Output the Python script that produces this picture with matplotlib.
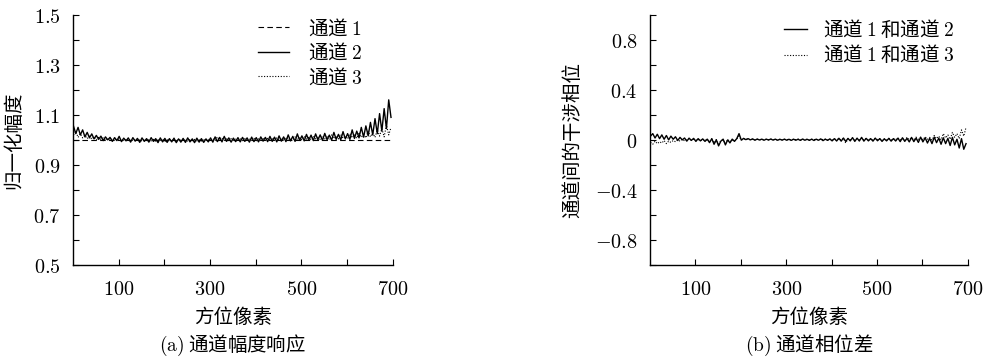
import matplotlib
matplotlib.use("Agg")

import numpy as np
import matplotlib.pyplot as plt
from matplotlib.ticker import FixedLocator, FuncFormatter

plt.rcParams['font.family'] = ['Noto Sans CJK SC', 'DejaVu Sans']
plt.rcParams['mathtext.fontset'] = 'cm'

# azimuth pixel index (sampled every 5 pixels)
pixels = list(range(1, 700, 5))

# (a) normalised amplitude
amp_ch1_x = [1, 700]
amp_ch1 = [1.0, 1.0]

amp_ch2 = [
    1.055, 1.025, 1.05, 1.02, 1.04, 1.012, 1.03, 1.008, 1.024, 1.004, 1.018, 1.002,
    1.015, 0.997, 1.012, 1.0, 1.01, 0.994, 1.009, 0.997, 1.014, 0.993, 1.007, 0.996,
    1.008, 0.991, 1.009, 0.995, 1.006, 0.99, 1.008, 0.994, 1.005, 0.991, 1.009, 0.994,
    1.005, 0.989, 1.008, 0.992, 1.006, 0.99, 1.005, 0.992, 1.007, 0.989, 1.004, 0.991,
    1.006, 0.99, 1.008, 0.992, 1.004, 0.989, 1.007, 0.991, 1.005, 0.99, 1.004, 0.992,
    1.008, 0.991, 1.012, 0.993, 1.01, 0.992, 1.014, 0.994, 1.008, 0.991, 1.007, 0.993,
    1.009, 0.992, 1.01, 0.994, 1.008, 0.991, 1.011, 0.993, 1.009, 0.992, 1.012, 0.995,
    1.01, 0.993, 1.014, 0.994, 1.011, 0.992, 1.016, 0.995, 1.012, 0.993, 1.02, 0.996,
    1.014, 0.994, 1.024, 0.998, 1.016, 0.996, 1.022, 0.999, 1.019, 0.997, 1.024, 1.0,
    1.02, 0.998, 1.026, 1.001, 1.019, 0.999, 1.03, 1.002, 1.022, 1.0, 1.033, 1.004,
    1.025, 1.002, 1.04, 1.006, 1.035, 1.008, 1.05, 1.011, 1.056, 1.016, 1.07, 1.02,
    1.085, 1.025, 1.105, 1.035, 1.125, 1.045, 1.16, 1.09,
]

amp_ch3 = [
    1.02, 1.035, 1.01, 1.025, 1.008, 1.018, 1.005, 1.015, 1.003, 1.012, 1.0, 1.01,
    1.002, 1.008, 0.998, 1.006, 1.0, 1.004, 0.997, 1.005, 0.999, 1.003, 0.996, 1.004,
    0.998, 1.002, 0.996, 1.003, 0.997, 1.001, 0.995, 1.002, 0.997, 1.0, 0.996, 1.002,
    0.995, 1.0, 0.997, 1.002, 0.994, 1.0, 0.996, 1.001, 0.995, 1.0, 0.997, 1.002,
    0.996, 1.0, 0.995, 1.001, 0.997, 1.002, 0.996, 1.0, 0.995, 1.001, 0.997, 1.003,
    0.998, 1.005, 0.997, 1.012, 0.999, 1.006, 0.998, 1.004, 0.997, 1.005, 0.999, 1.003,
    0.998, 1.004, 0.997, 1.005, 0.999, 1.003, 0.998, 1.006, 0.997, 1.004, 0.999, 1.005,
    0.998, 1.006, 1.0, 1.004, 0.998, 1.008, 1.0, 1.005, 0.999, 1.01, 1.001, 1.006,
    1.0, 1.012, 1.002, 1.008, 1.0, 1.014, 1.003, 1.01, 1.001, 1.015, 1.004, 1.01,
    1.002, 1.016, 1.004, 1.012, 1.003, 1.02, 1.005, 1.014, 1.004, 1.022, 1.006, 1.015,
    1.005, 1.025, 1.008, 1.02, 1.006, 1.03, 1.01, 1.022, 1.008, 1.035, 1.012, 1.028,
    1.01, 1.04, 1.015, 1.045, 1.012, 1.06, 1.02, 1.05,
]

# (b) interferometric phase between channels
phase_12 = [
    0.03, 0.05, 0.015, 0.045, 0.01, 0.04, 0.005, 0.035, 0.0, 0.03, 0.005, 0.025,
    -0.005, 0.02, 0.0, 0.015, -0.01, 0.014, -0.004, 0.012, -0.012, 0.01, -0.008, 0.008,
    -0.012, 0.006, -0.022, 0.01, -0.035, 0.0, -0.048, -0.01, 0.006, -0.04, 0.0, -0.024,
    0.006, -0.012, 0.01, 0.05, -0.002, 0.012, 0.002, 0.01, 0.0, 0.008, -0.003, 0.007,
    -0.001, 0.006, -0.003, 0.006, -0.001, 0.007, -0.002, 0.006, -0.003, 0.005, -0.002, 0.006,
    -0.003, 0.005, -0.004, 0.006, -0.003, 0.005, -0.004, 0.007, -0.003, 0.005, -0.004, 0.006,
    -0.005, 0.006, -0.003, 0.008, -0.006, 0.006, -0.004, 0.008, -0.008, 0.01, -0.009, 0.013,
    -0.01, 0.015, -0.012, 0.012, -0.008, 0.018, -0.012, 0.014, -0.009, 0.02, -0.01, 0.012,
    -0.008, 0.01, -0.01, 0.014, -0.007, 0.01, -0.012, 0.008, -0.008, 0.012, -0.01, 0.01,
    -0.009, 0.014, -0.014, 0.017, -0.012, 0.012, -0.016, 0.02, -0.014, 0.014, -0.02, 0.022,
    -0.016, 0.017, -0.025, 0.012, -0.03, 0.022, -0.022, 0.014, -0.035, 0.017, -0.03, 0.012,
    -0.045, 0.02, -0.04, 0.005, -0.065, 0.01, -0.075, -0.03,
]

phase_13 = [
    -0.02, -0.035, -0.01, -0.03, -0.015, -0.025, -0.005, -0.03, -0.01, -0.02, -0.005, -0.015,
    0.0, -0.01, 0.005, -0.008, 0.0, 0.008, -0.005, 0.006, -0.002, 0.004, -0.006, 0.005,
    -0.005, 0.004, -0.015, 0.006, -0.025, 0.002, -0.035, -0.005, 0.0, -0.03, 0.003, -0.015,
    0.0, -0.008, 0.008, 0.03, -0.002, 0.01, 0.003, 0.008, 0.0, 0.006, 0.002, 0.005,
    0.0, 0.005, 0.002, 0.004, 0.0, 0.005, 0.002, 0.004, -0.001, 0.005, 0.0, 0.004,
    0.002, 0.005, 0.0, 0.004, 0.002, 0.006, -0.001, 0.004, 0.002, 0.005, 0.0, 0.004,
    0.002, 0.005, -0.001, 0.006, 0.002, 0.005, 0.0, 0.006, -0.002, 0.008, 0.0, 0.01,
    -0.002, 0.012, -0.025, 0.01, 0.0, 0.014, -0.003, 0.01, 0.0, 0.015, -0.002, 0.012,
    0.0, 0.01, -0.002, 0.012, 0.002, 0.01, -0.003, 0.008, 0.0, 0.012, -0.002, 0.01,
    0.002, 0.015, 0.0, 0.012, -0.004, 0.02, 0.002, 0.016, -0.002, 0.022, 0.004, 0.018,
    0.0, 0.025, 0.005, 0.02, -0.002, 0.035, 0.01, 0.03, 0.0, 0.05, 0.015, 0.04,
    0.005, 0.06, 0.02, 0.05, 0.01, 0.08, 0.03, 0.1,
]

x_major = [100, 300, 500, 700]
x_minor = [200, 400, 600]
amp_major = [0.5, 0.7, 0.9, 1.1, 1.3, 1.5]
amp_minor = [0.6, 0.8, 1.0, 1.2, 1.4]
phase_major = [-0.8, -0.4, 0, 0.4, 0.8]
phase_minor = [-1.0, -0.6, -0.2, 0.2, 0.6, 1.0]

FS = 14
NUM_FS = 14.5
math_fmt = FuncFormatter(lambda v, pos: f'${v:g}$')


def style_axes(ax, yticks, yminor, ylim):
    ax.set_xlim(0, 700)
    ax.set_ylim(*ylim)
    for s in ['top', 'right']:
        ax.spines[s].set_visible(False)
    for s in ['left', 'bottom']:
        ax.spines[s].set_linewidth(1.0)
    ax.xaxis.set_major_locator(FixedLocator(x_major))
    ax.xaxis.set_minor_locator(FixedLocator(x_minor))
    ax.yaxis.set_major_locator(FixedLocator(yticks))
    ax.yaxis.set_minor_locator(FixedLocator(yminor))
    ax.xaxis.set_major_formatter(math_fmt)
    ax.yaxis.set_major_formatter(math_fmt)
    ax.tick_params(which='both', direction='in', length=4, width=0.8)
    ax.tick_params(axis='x', pad=10, labelsize=NUM_FS)
    ax.tick_params(axis='y', pad=9, labelsize=NUM_FS)
    ax.set_xlabel('方位像素', fontsize=FS, labelpad=5)


fig = plt.figure(figsize=(9.87, 3.61), dpi=100)
ax1 = fig.add_axes([0.074, 0.266, 0.324, 0.693])
ax2 = fig.add_axes([0.6586, 0.266, 0.322, 0.693])

# (a)
l1, = ax1.plot(amp_ch1_x, amp_ch1, color='k', lw=0.8, ls=(0, (5, 3)), label='通道 $1$')
l3, = ax1.plot(pixels, amp_ch3, color='k', lw=0.8, ls=(0, (1, 1.5)), label='通道 $3$')
l2, = ax1.plot(pixels, amp_ch2, color='k', lw=1.0, label='通道 $2$')
style_axes(ax1, amp_major, amp_minor, (0.5, 1.5))
ax1.set_ylabel('归一化幅度', fontsize=FS, labelpad=6)
ax1.legend(handles=[l1, l2, l3], loc='upper right', frameon=False, fontsize=FS,
           handlelength=1.6, handletextpad=1.0, labelspacing=0.15,
           borderaxespad=0.0, bbox_to_anchor=(0.93, 1.02))
fig.text((0.074 + 0.324 / 2), 1 - 345 / 361, r'$(\mathrm{a})$ 通道幅度响应',
         ha='center', va='center', fontsize=FS)

# (b)
p3, = ax2.plot(pixels, phase_13, color='k', lw=0.8, ls=(0, (1, 1.5)), label='通道 $1$ 和通道 $3$')
p2, = ax2.plot(pixels, phase_12, color='k', lw=1.0, label='通道 $1$ 和通道 $2$')
style_axes(ax2, phase_major, phase_minor, (-1.0, 1.0))
ax2.set_ylabel('通道间的干涉相位', fontsize=FS, labelpad=8)
ax2.legend(handles=[p2, p3], loc='upper right', frameon=False, fontsize=FS,
           handlelength=1.2, handletextpad=0.8, labelspacing=0.15,
           borderaxespad=0.0, bbox_to_anchor=(0.98, 1.02))
fig.text((0.6586 + 0.322 / 2), 1 - 345 / 361, r'$(\mathrm{b})$ 通道相位差',
         ha='center', va='center', fontsize=FS)

fig.savefig('out.png', dpi=100)
